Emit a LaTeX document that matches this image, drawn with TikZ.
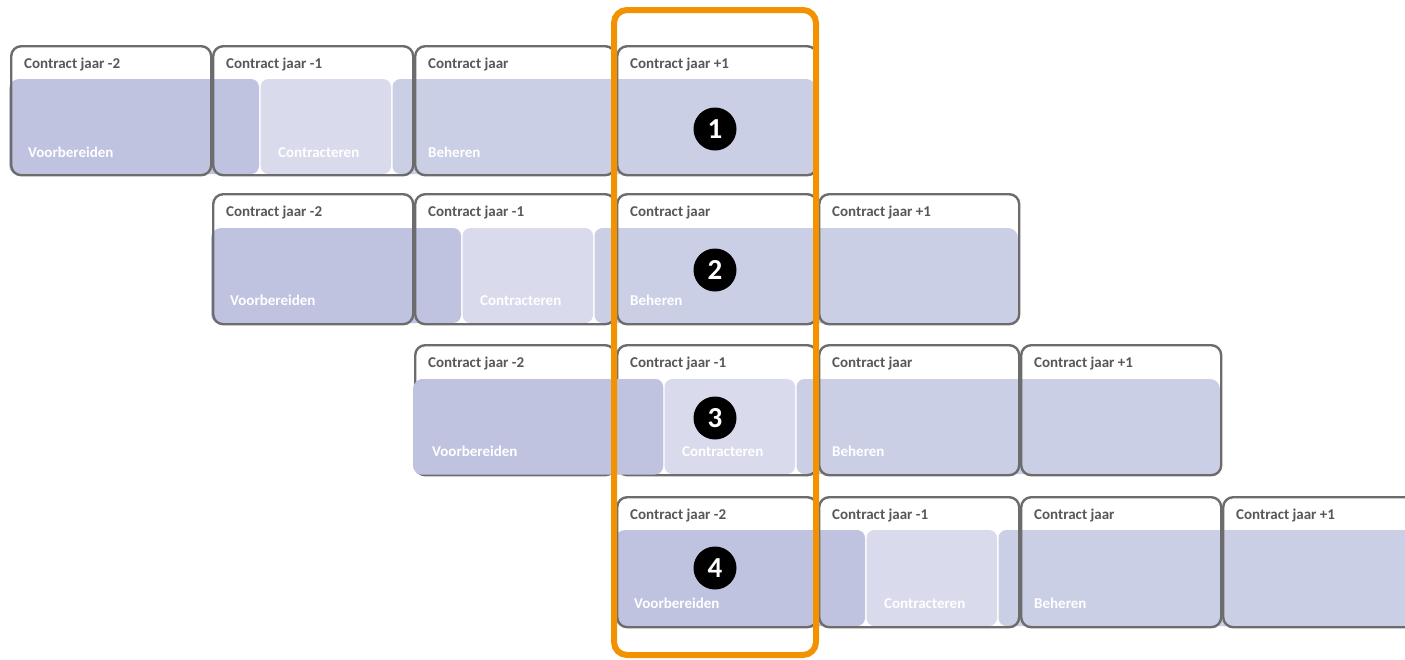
\documentclass[tikz,border=0pt]{standalone}
\usepackage{fontspec}
\setmainfont{Carlito}
\definecolor{bandDark}{RGB}{191,195,224}
\definecolor{bandLight}{RGB}{217,218,236}
\definecolor{bandMid}{RGB}{202,207,229}
\definecolor{boxGray}{RGB}{108,108,108}
\definecolor{txtGray}{RGB}{88,88,88}
\definecolor{frameOrange}{RGB}{243,146,0}
\begin{document}
\begin{tikzpicture}[x=1pt,y=-1pt,
  yearbox/.style={draw=boxGray, line width=2.4pt, rounded corners=10pt,
    minimum width=200pt, minimum height=#1, anchor=north west, inner sep=0pt},
  hdr/.style={anchor=base west, inner sep=0pt, text=txtGray,
    font=\fontsize{15}{18}\selectfont\bfseries},
  phase/.style={anchor=base west, inner sep=0pt, text=white,
    font=\fontsize{15}{18}\selectfont\bfseries},
  numdot/.style={circle, fill=black, text=white, minimum size=43pt, inner sep=0pt,
    font=\fontsize{29}{30}\selectfont\bfseries},
  frame/.style={draw=frameOrange, line width=6pt, rounded corners=13pt}
]
\clip (0,0) rectangle (1405,659);
\fill[white] (0,0) rectangle (1405,659);

\foreach \r/\xo/\tp/\bt/\ft in {1/10/45/174/79, 2/212/193/323/228, 3/414/344/474/379, 4/616/496/626/530}{
  % phase bands
  \begin{scope}
    \clip[rounded corners=10pt] (\xo-1,\ft) rectangle (\xo+806,\bt+1);
    \fill[bandDark, rounded corners=8pt] (\xo-30,\ft) rectangle (\xo+249,\bt);
    \fill[bandLight, rounded corners=8pt] (\xo+250.5,\ft) rectangle (\xo+381,\bt);
    \fill[bandMid, rounded corners=8pt] (\xo+382.5,\ft) rectangle (\xo+840,\bt);
  \end{scope}
  % year boxes
  \foreach \k/\lab in {0/{Contract jaar -2},1/{Contract jaar -1},2/{Contract jaar},3/{Contract jaar +1}}{
    \node[yearbox=\bt-\tp] (r\r b\k) at (\xo+202*\k,\tp) {};
    \node[hdr] (r\r h\k) at (\xo+202*\k+14,\tp+23) {\lab};
  }
}
% row 3: the first band lies over the lower outline of its first box
\begin{scope}
  \clip[rounded corners=10pt] (413,379) rectangle (1220,475);
  \fill[bandDark, rounded corners=8pt] (380,379) rectangle (663,474.5);
\end{scope}

% phase labels
\foreach \r/\xo/\tp in {1/10/45, 2/212/193, 3/414/344, 4/616/496}{
  \node[phase] (r\r v) at (\xo+18,\tp+112.5) {Voorbereiden};
  \node[phase] (r\r c) at (\xo+268,\tp+112.5) {Contracteren};
  \node[phase] (r\r m) at (\xo+418,\tp+112.5) {Beheren};
}

% highlight frame
\draw[frame] (614,10) rectangle (816,655);

% numbered markers
\node[numdot] (n1) at (715,129) {1};
\node[numdot] (n2) at (715,270) {2};
\node[numdot] (n3) at (715,418) {3};
\node[numdot] (n4) at (715,568) {4};
\end{tikzpicture}
\end{document}
